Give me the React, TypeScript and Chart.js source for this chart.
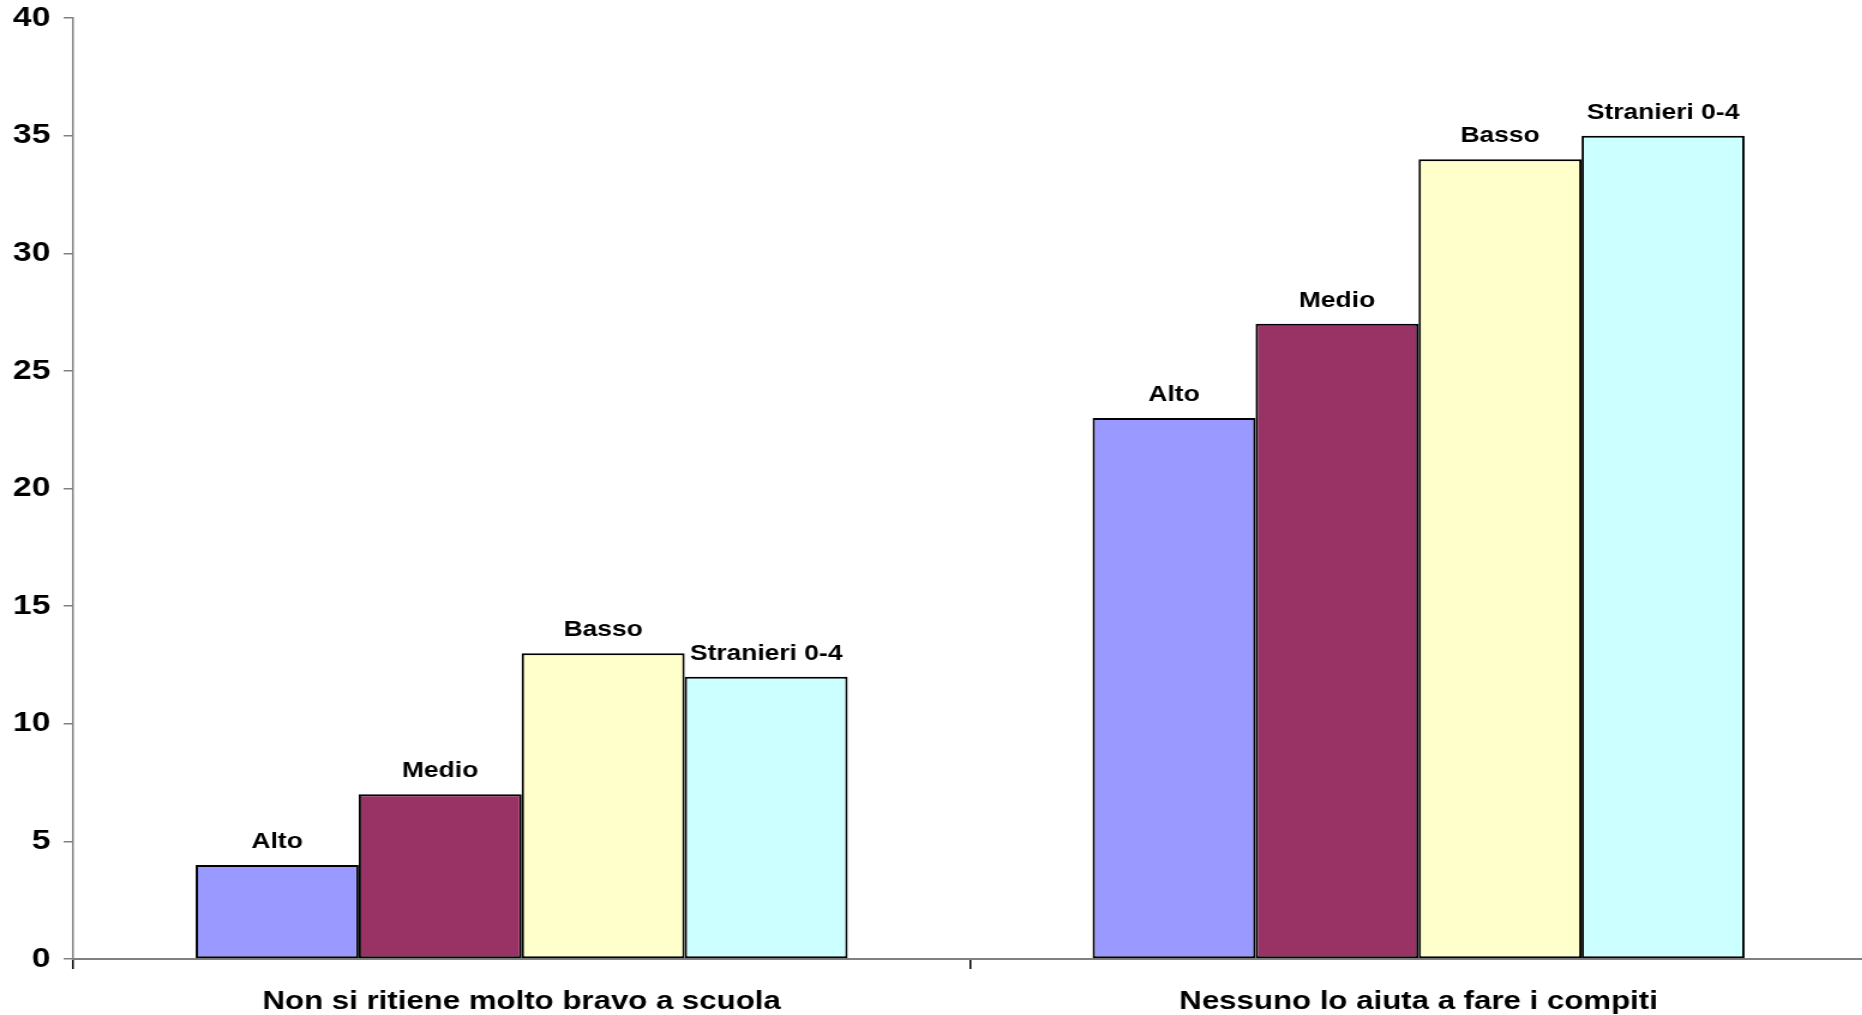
import React, { useEffect, useRef } from "react";
import { Chart, registerables } from "chart.js";

Chart.register(...registerables);

const categories = ["Non si ritiene molto bravo a scuola", "Nessuno lo aiuta a fare i compiti"];
const seriesNames = ["Alto", "Medio", "Basso", "Stranieri 0-4"];
const altoValues = [4, 23];
const medioValues = [7, 27];
const bassoValues = [13, 34];
const stranieriValues = [12, 35];
const seriesColors = ["#9999FF", "#993366", "#FFFFCC", "#CCFFFF"];
const yTicks = [0, 5, 10, 15, 20, 25, 30, 35, 40];

const OUT_W = 1862;
const OUT_H = 1015;
const CANVAS_CSS_W = 1867;
const STRETCH = 1.2;
const IN_W = Math.round(CANVAS_CSS_W / STRETCH);
const FONT = "'Liberation Sans', Arial, Helvetica, sans-serif";

const barLabelPlugin = {
  id: "barLabels",
  afterDatasetsDraw(chart: any) {
    const ctx = chart.ctx;
    ctx.save();
    ctx.font = `bold 22px ${FONT}`;
    ctx.fillStyle = "#000";
    ctx.textAlign = "center";
    ctx.textBaseline = "alphabetic";
    chart.data.datasets.forEach((ds: any, i: number) => {
      const meta = chart.getDatasetMeta(i);
      meta.data.forEach((el: any) => {
        ctx.fillText(ds.label, el.x, el.y - 17);
      });
    });
    ctx.restore();
  },
};

export default function App() {
  const ref = useRef<HTMLCanvasElement | null>(null);
  useEffect(() => {
    if (!ref.current) return;
    Chart.defaults.font.family = FONT;
    const allValues = [altoValues, medioValues, bassoValues, stranieriValues];
    const chart = new Chart(ref.current, {
      type: "bar",
      data: {
        labels: categories,
        datasets: seriesNames.map((name, i) => ({
          label: name,
          data: allValues[i],
          backgroundColor: seriesColors[i],
          borderColor: "#000000",
          borderWidth: 2,
          borderSkipped: false,
          categoryPercentage: 0.727,
          barPercentage: 1.0,
        })),
      },
      options: {
        animation: false,
        responsive: false,
        devicePixelRatio: 1,
        layout: { padding: { top: 18, right: 0, bottom: 0, left: 0 } },
        plugins: {
          legend: { display: false },
          tooltip: { enabled: false },
          title: { display: false },
        },
        scales: {
          x: {
            afterFit(scale: any) {
              scale.height = 56;
              scale.paddingLeft = 0;
              scale.paddingRight = 0;
            },
            grid: {
              display: true,
              drawOnChartArea: false,
              drawTicks: true,
              tickLength: 10,
              offset: true,
              color: (c: any) => (c.index >= categories.length ? "rgba(0,0,0,0)" : "#000000"),
              lineWidth: 1.5,
            },
            border: { display: true, color: "#808080", width: 2 },
            ticks: {
              color: "#000",
              padding: 17,
              maxRotation: 0,
              font: { size: 26, weight: "bold", family: FONT },
            },
          },
          y: {
            min: 0,
            max: 40,
            afterFit(scale: any) {
              scale.width = 61;
              scale.paddingTop = 0;
              scale.paddingBottom = 0;
            },
            afterBuildTicks(scale: any) {
              scale.ticks = yTicks.map((v) => ({ value: v }));
            },
            grid: {
              display: true,
              drawOnChartArea: false,
              drawTicks: true,
              tickLength: 8,
              color: "#808080",
              lineWidth: 1.5,
            },
            border: { display: true, color: "#808080", width: 1.5 },
            ticks: {
              color: "#000",
              padding: 11,
              font: { size: 28, weight: "bold", family: FONT },
            },
          },
        },
      },
      plugins: [barLabelPlugin],
    });
    return () => chart.destroy();
  }, []);

  return (
    <div
      style={{
        position: "fixed",
        left: 0,
        top: 0,
        width: OUT_W,
        height: OUT_H,
        overflow: "hidden",
        background: "#fff",
      }}
    >
      <canvas
        ref={ref}
        width={IN_W}
        height={OUT_H}
        style={{ width: `${CANVAS_CSS_W}px`, height: `${OUT_H}px`, display: "block" }}
      />
    </div>
  );
}
